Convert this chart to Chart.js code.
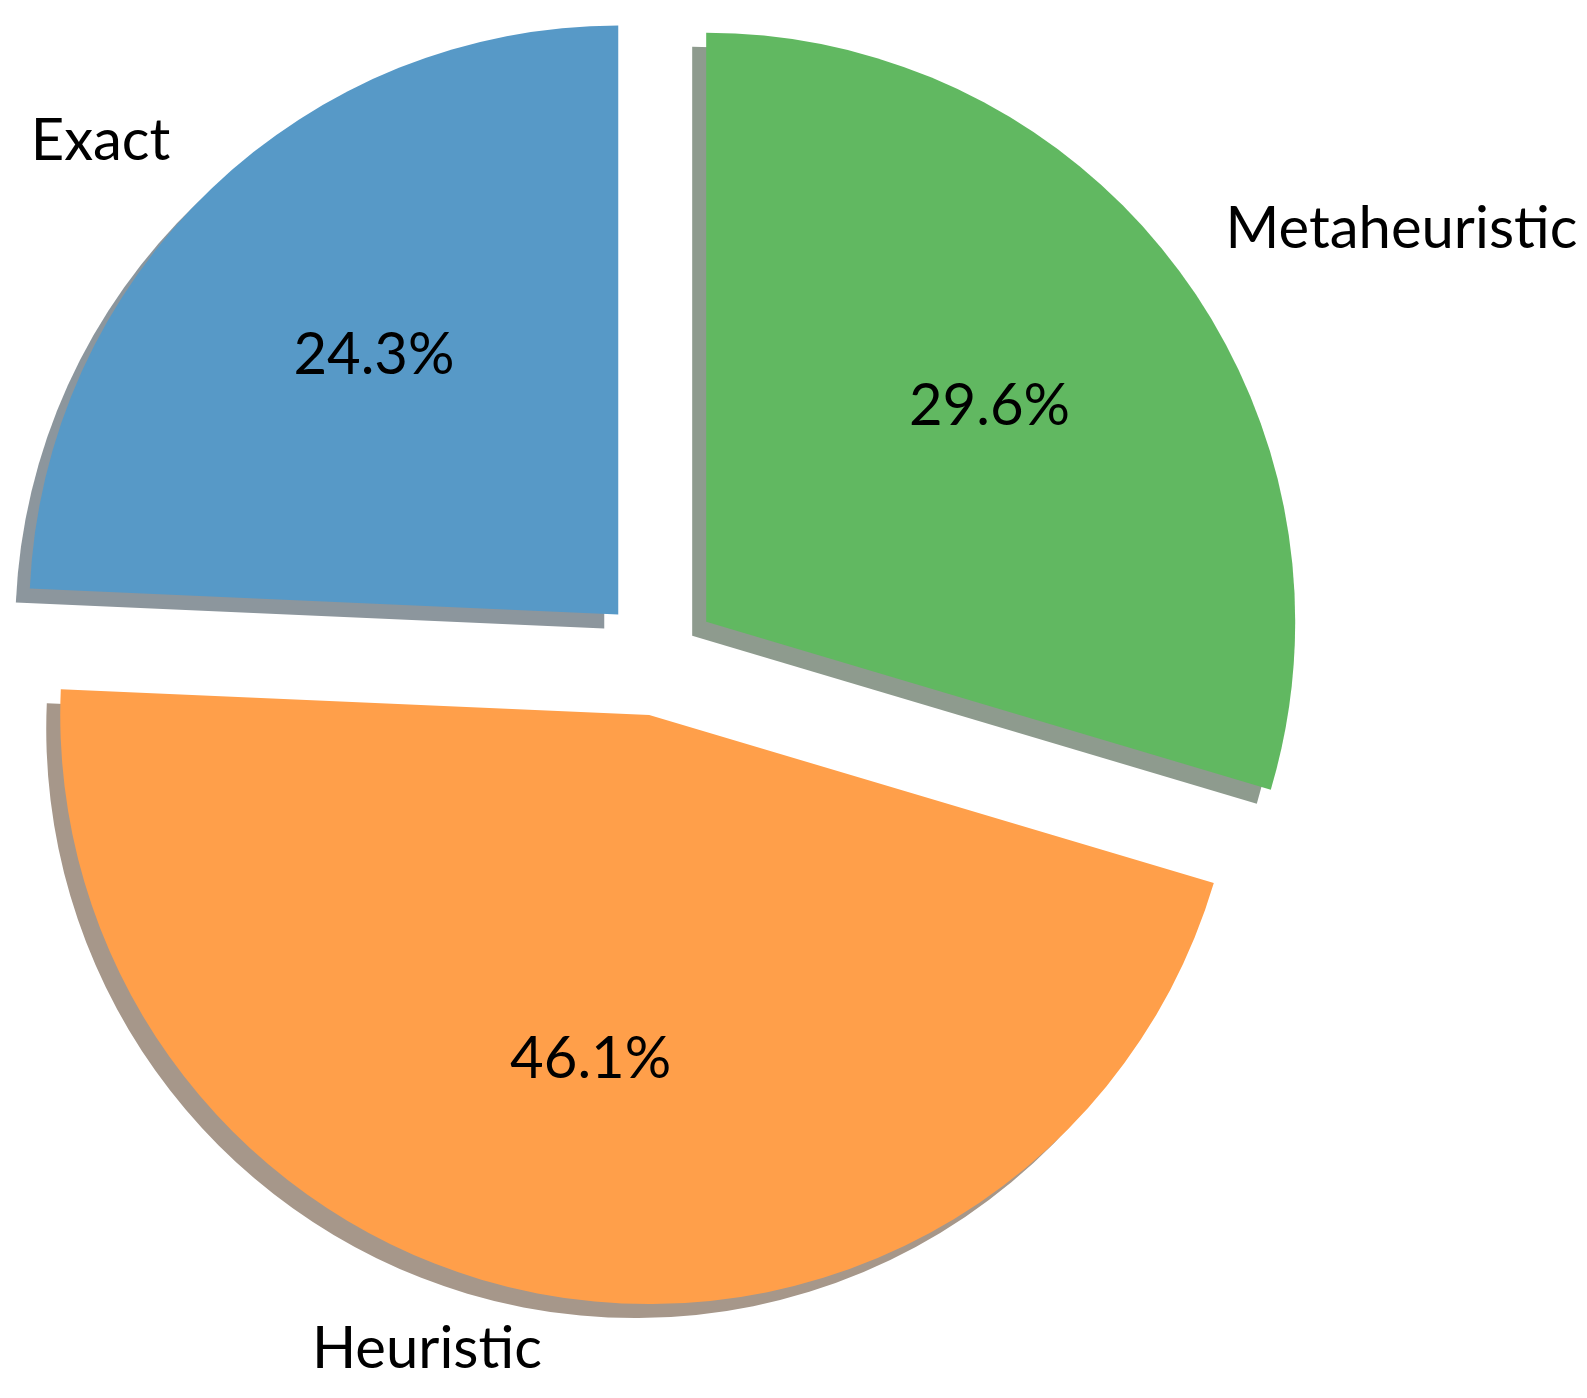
<!DOCTYPE html>
<html>
<head>
<meta charset="utf-8">
<script src="https://cdn.jsdelivr.net/npm/chart.js@4.4.1/dist/chart.umd.min.js"></script>
<style>
  html, body { margin: 0; padding: 0; background: #ffffff; }
  #wrap { width: 1587px; height: 1398px; }
</style>
</head>
<body>
<div id="wrap"><canvas id="pie"></canvas></div>
<script>
// datos del grafico (orden de matplotlib: antihorario desde arriba)
var categorias = ["Exact", "Heuristic", "Metaheuristic"];
var porcentajes = [24.3, 46.1, 29.6];
var colores = ["#5799c7", "#ff9f4a", "#61b861"];
var coloresSombra = ["#8c969d", "#a6978a", "#8e9b8e"];

// Chart.js gira en sentido horario, asi que invertimos el orden
var etiquetasChart = categorias.slice().reverse();
var valoresChart = porcentajes.slice().reverse();
var coloresChart = colores.slice().reverse();
var sombrasChart = coloresSombra.slice().reverse();

var EXPLODE = 0.1;      // fraccion del radio
var SOMBRA_X = -14;
var SOMBRA_Y = 14;
var FUENTE = "58px Lato, 'DejaVu Sans', sans-serif";

function dibujarCuna(ctx, arc, dx, dy, color) {
  var p = arc.getProps(["x", "y", "startAngle", "endAngle", "outerRadius"], true);
  var mid = (p.startAngle + p.endAngle) / 2;
  var cx = p.x + Math.cos(mid) * EXPLODE * p.outerRadius + dx;
  var cy = p.y + Math.sin(mid) * EXPLODE * p.outerRadius + dy;
  ctx.beginPath();
  ctx.moveTo(cx, cy);
  ctx.arc(cx, cy, p.outerRadius, p.startAngle, p.endAngle);
  ctx.closePath();
  ctx.fillStyle = color;
  ctx.fill();
}

var pluginPastel = {
  id: "pastelExplotado",
  beforeDatasetDraw: function (chart, args) {
    var ctx = chart.ctx;
    var arcs = args.meta.data;
    ctx.save();
    // primero las sombras, luego las cunas
    arcs.forEach(function (arc, i) {
      dibujarCuna(ctx, arc, SOMBRA_X, SOMBRA_Y, sombrasChart[i]);
    });
    arcs.forEach(function (arc, i) {
      dibujarCuna(ctx, arc, 0, 0, coloresChart[i]);
    });
    ctx.restore();
    return false;
  },
  afterDatasetsDraw: function (chart) {
    var ctx = chart.ctx;
    var arcs = chart.getDatasetMeta(0).data;
    var total = valoresChart.reduce(function (a, b) { return a + b; }, 0);
    ctx.save();
    ctx.font = FUENTE;
    ctx.fillStyle = "#000000";
    ctx.textBaseline = "middle";
    arcs.forEach(function (arc, i) {
      var p = arc.getProps(["x", "y", "startAngle", "endAngle", "outerRadius"], true);
      var mid = (p.startAngle + p.endAngle) / 2;
      var r = p.outerRadius;
      var cx = p.x + Math.cos(mid) * EXPLODE * r;
      var cy = p.y + Math.sin(mid) * EXPLODE * r;
      // etiqueta a 1.1 del radio
      var lx = cx + Math.cos(mid) * 1.1 * r;
      var ly = cy + Math.sin(mid) * 1.1 * r;
      ctx.textAlign = Math.cos(mid) > 0 ? "left" : "right";
      ctx.fillText(etiquetasChart[i], lx, ly - 5);
      // porcentaje a 0.6 del radio
      var px = cx + Math.cos(mid) * 0.6 * r;
      var py = cy + Math.sin(mid) * 0.6 * r;
      ctx.textAlign = "center";
      ctx.fillText((valoresChart[i] / total * 100).toFixed(1) + "%", px, py - 4);
    });
    ctx.restore();
  }
};

var ctx = document.getElementById("pie").getContext("2d");
var chart = new Chart(ctx, {
  type: "pie",
  data: {
    labels: etiquetasChart,
    datasets: [
      {
        data: valoresChart,
        backgroundColor: coloresChart,
        borderWidth: 0,
      },
    ],
  },
  options: {
    responsive: true,
    maintainAspectRatio: false,
    animation: false,
    radius: 589,
    layout: {
      padding: { left: 0, top: 0, right: 269, bottom: 84 },
    },
    plugins: {
      legend: { display: false },
      tooltip: { enabled: false },
    },
  },
  plugins: [pluginPastel],
});
</script>
</body>
</html>
